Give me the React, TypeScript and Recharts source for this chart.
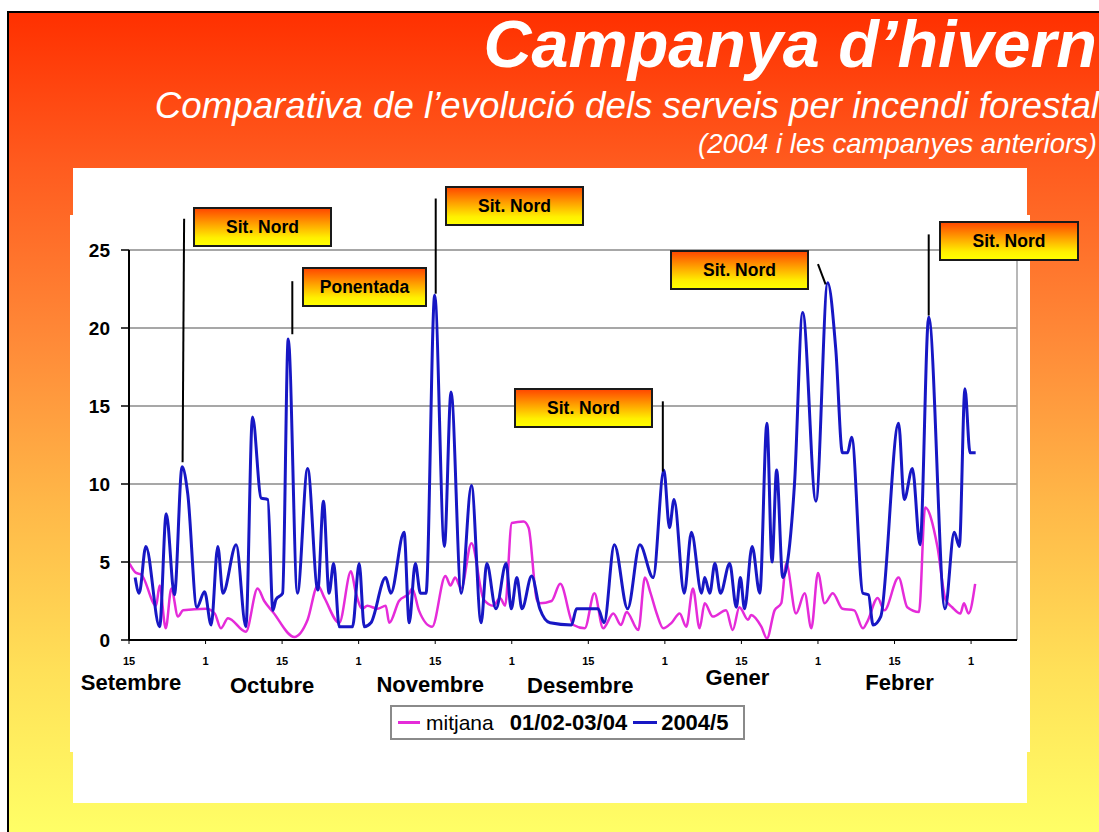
import React from 'react';
import {
  LineChart, Line, XAxis, YAxis, CartesianGrid, ReferenceLine, Legend
} from 'recharts';

// x axis = days counted from 15 September, one tick every 15 days
const tickDays = [0, 15, 30, 45, 60, 75, 90, 105, 120, 135, 150, 165];
const tickLabels = ['15', '1', '15', '1', '15', '1', '15', '1', '15', '1', '15', '1'];
const monthNames = ['Setembre', 'Octubre', 'Novembre', 'Desembre', 'Gener', 'Febrer'];
const yTicks = [0, 5, 10, 15, 20, 25];

// mitjana 01/02-03/04 : [day, serveis]
const mitjana: [number, number][] = [
  [0.1, 4.9], [1.4, 4.3], [2.4, 4.2], [5.3, 2.2], [6.0, 3.5], [7.2, 0.75], [8.3, 3.3],
  [9.6, 1.5], [10.6, 1.9], [15.1, 2.0], [16.8, 1.7], [18.0, 0.75], [19.4, 1.4],
  [22.9, 0.53], [25.2, 3.3], [26.5, 2.5], [28.2, 1.8], [32.4, 0.2], [35.0, 1.3],
  [37.0, 3.5], [38.3, 2.7], [41.2, 1.1], [43.5, 4.4], [44.4, 3.1], [45.7, 2.0],
  [46.7, 2.2], [48.7, 2.0], [50.3, 2.2], [51.0, 1.1], [52.9, 2.5], [54.9, 3.0],
  [55.5, 3.3], [56.8, 1.9], [59.4, 0.85], [62.0, 4.1], [63.0, 3.5], [63.9, 4.0],
  [65.1, 3.3], [67.1, 6.2], [69.5, 2.6], [71.4, 2.2], [72.7, 2.7], [73.7, 2.2],
  [75.0, 7.5], [77.3, 7.6], [78.3, 7.2], [79.9, 2.6], [80.5, 2.35], [82.8, 2.5],
  [84.5, 3.6], [87.1, 0.96], [89.3, 0.75], [91.2, 3.0], [92.9, 0.75], [94.9, 1.7],
  [96.4, 0.96], [97.5, 1.8], [99.8, 0.64], [101.1, 4.0], [102.2, 3.0], [103.4, 1.7],
  [104.7, 0.75], [106.3, 1.1], [107.9, 1.7], [109.2, 0.85], [110.5, 3.3], [111.8, 0.75],
  [112.8, 2.35], [114.4, 1.5], [117.0, 1.9], [118.3, 0.64], [119.6, 2.1], [121.3, 1.3],
  [121.9, 1.6], [123.9, 0.85], [125.0, 0.1], [126.5, 1.9], [127.8, 2.35], [128.8, 4.9],
  [130.7, 1.7], [132.4, 3.0], [133.7, 0.75], [135.0, 4.3], [136.3, 2.35], [137.9, 3.0],
  [139.8, 2.0], [142.1, 1.9], [143.8, 0.75], [144.7, 1.2], [146.7, 2.7], [148.0, 1.9],
  [150.8, 4.0], [152.5, 2.1], [154.8, 1.8], [156.0, 8.5], [158.4, 6.0], [160.0, 2.6],
  [161.3, 2.1], [162.9, 1.7], [163.6, 2.35], [164.5, 1.7], [165.8, 3.6],
];

// campanya 2004/5 : [day, serveis]
const campanya2004: [number, number][] = [
  [1.2, 4.0], [2.0, 3.0], [3.3, 6.0], [6.0, 0.85], [7.3, 8.1], [8.9, 2.9], [10.4, 11.1],
  [11.5, 9.4], [13.3, 2.1], [14.8, 3.1], [16.1, 0.96], [17.4, 6.0], [18.4, 3.0],
  [21.0, 6.1], [22.9, 0.85], [24.2, 14.3], [25.9, 9.1], [27.2, 9.0], [28.2, 1.9],
  [28.8, 2.6], [30.1, 3.0], [31.2, 19.3], [33.0, 3.0], [35.0, 11.0], [37.0, 3.2],
  [38.1, 8.9], [39.2, 3.0], [40.1, 4.9], [41.2, 0.85], [43.8, 0.85], [45.1, 4.9],
  [46.1, 0.85], [47.4, 1.1], [50.3, 4.0], [51.3, 3.0], [53.9, 6.9], [54.9, 1.1],
  [56.1, 4.9], [57.1, 3.0], [58.2, 3.0], [59.9, 22.1], [61.8, 6.0], [63.1, 15.9],
  [65.1, 3.0], [67.1, 9.9], [69.0, 1.1], [70.1, 4.9], [71.9, 2.0], [73.9, 4.9],
  [74.9, 2.0], [76.0, 4.0], [77.0, 2.0], [78.9, 4.1], [80.5, 2.0], [82.5, 1.1],
  [86.7, 0.96], [87.7, 2.0], [91.9, 2.0], [93.1, 1.1], [95.1, 6.1], [97.7, 2.0],
  [100.1, 6.1], [102.7, 4.0], [104.8, 10.9], [105.9, 7.2], [106.8, 9.0], [108.8, 3.0],
  [110.2, 6.9], [112.2, 3.0], [112.8, 4.0], [113.8, 3.0], [114.8, 4.9], [115.9, 3.0],
  [117.7, 4.9], [119.0, 2.1], [119.8, 4.0], [120.6, 2.0], [122.1, 6.0], [123.6, 3.0],
  [125.0, 13.9], [126.0, 5.0], [126.9, 10.9], [128.1, 4.0], [130.4, 10.0], [132.0, 21.0],
  [134.6, 8.9], [136.9, 22.9], [138.5, 18.6], [139.8, 12.0], [140.8, 12.0], [141.6, 13.0],
  [143.8, 3.0], [144.9, 2.9], [145.8, 0.96], [147.3, 1.5], [150.8, 13.9], [151.9, 9.0],
  [153.5, 11.0], [155.0, 6.1], [156.7, 20.7], [159.9, 2.0], [161.7, 6.9], [162.7, 6.0],
  [163.8, 16.1], [164.8, 12.0], [165.9, 12.0],
];

// callout leader lines, in chart units: [day1, value1, day2, value2]
const leaders: [number, number, number, number][] = [
  [10.8, 27.0, 10.5, 11.4],
  [32.0, 23.0, 32.0, 19.6],
  [60.1, 28.3, 60.1, 22.2],
  [104.6, 15.3, 104.6, 10.8],
  [135.0, 24.1, 136.5, 22.8],
  [156.7, 26.0, 156.7, 20.8],
];
const calloutTexts = ['Sit. Nord', 'Ponentada', 'Sit. Nord', 'Sit. Nord', 'Sit. Nord', 'Sit. Nord'];

// layout only
const calloutBoxes = [
  { left: 193, top: 207, width: 139 },
  { left: 302, top: 267, width: 125 },
  { left: 445, top: 186, width: 139 },
  { left: 514, top: 388, width: 139 },
  { left: 670, top: 250, width: 139 },
  { left: 939, top: 221, width: 140 },
];
const monthNudgeY = [0, 3, 2, 3, -5, 0];
const monthNudgeX = [2, -10, -5, -8, -4, 5];

const FONT = '"Liberation Sans", Arial, Helvetica, sans-serif';
const PINK = '#E52BD9';
const BLUE = '#1717C4';

const mitjanaData = mitjana.map(([day, v]) => ({ day, v }));
const campanyaData = campanya2004.map(([day, v]) => ({ day, v }));

const MonthTick = (props: any) => {
  const { x, y, payload } = props;
  const i = tickDays.indexOf(payload.value);
  if (i < 0) return null;
  const m = i / 2;
  return (
    <g>
      <text x={x} y={y + 8} textAnchor="middle" fontFamily={FONT} fontSize={11} fontWeight="bold" fill="#000">
        {tickLabels[i]}
      </text>
      {i % 2 === 0 && (
        <text x={x + monthNudgeX[m]} y={y + 33 + monthNudgeY[m]} textAnchor="middle" fontFamily={FONT}
          fontSize={22} fontWeight="bold" fill="#000">
          {monthNames[m]}
        </text>
      )}
    </g>
  );
};

const LegendBox = () => (
  <div style={{
    boxSizing: 'border-box', width: 355, height: 35, border: '2px solid #8a8a8a', background: '#fff',
    display: 'flex', alignItems: 'center', fontFamily: FONT, fontSize: 21, color: '#000', whiteSpace: 'nowrap'
  }}>
    <span style={{ display: 'inline-block', width: 22, height: 3, background: PINK, marginLeft: 6, marginRight: 6 }} />
    <span>mitjana</span>
    <span style={{ fontWeight: 'bold', fontSize: 22, marginLeft: 16 }}>01/02-03/04</span>
    <span style={{ display: 'inline-block', width: 24, height: 3, background: BLUE, marginLeft: 6, marginRight: 4 }} />
    <span style={{ fontWeight: 'bold', fontSize: 22 }}>2004/5</span>
  </div>
);

const App: React.FC = () => {
  return (
    <div style={{ position: 'absolute', left: 0, top: 0, width: 1099, height: 832, overflow: 'hidden', background: '#fff' }}>
      {/* slide */}
      <div style={{
        position: 'absolute', left: 7, top: 11, width: 1200, height: 821,
        borderLeft: '2px solid #000', borderTop: '2px solid #000',
        background: 'linear-gradient(to bottom, #FF3000 0%, #FF5A1E 18%, #FF8A38 40%, #FFB848 60%, #FFE058 80%, #FFFF66 100%)'
      }} />

      <div style={{
        position: 'absolute', right: 2, top: 11, lineHeight: 1, fontFamily: FONT, fontSize: 66.5,
        fontWeight: 'bold', fontStyle: 'italic', color: '#fff', whiteSpace: 'nowrap'
      }}>Campanya d’hivern</div>
      <div style={{
        position: 'absolute', right: 0, top: 88, lineHeight: 1, fontFamily: FONT, fontSize: 36.7,
        fontStyle: 'italic', color: '#fff', whiteSpace: 'nowrap'
      }}>Comparativa de l’evolució dels serveis per incendi forestal</div>
      <div style={{
        position: 'absolute', right: 2, top: 130, lineHeight: 1, fontFamily: FONT, fontSize: 27.5,
        fontStyle: 'italic', color: '#fff', whiteSpace: 'nowrap'
      }}>(2004 i les campanyes anteriors)</div>

      {/* white panel */}
      <div style={{ position: 'absolute', left: 73, top: 168, width: 954, height: 635, background: '#fff' }} />
      <div style={{ position: 'absolute', left: 70, top: 215, width: 960, height: 537, background: '#fff' }} />

      <div style={{ position: 'absolute', left: 70, top: 180 }}>
        <LineChart width={960} height={575} margin={{ top: 70, right: 13, bottom: 55, left: 0 }}>
          <CartesianGrid vertical={false} stroke="#8a8a8a" strokeWidth={1.5} />
          <XAxis
            dataKey="day" type="number" domain={[0, 174]} ticks={tickDays} allowDataOverflow
            height={60} tickSize={4} tickMargin={13}
            axisLine={{ stroke: '#000', strokeWidth: 2 }} tickLine={{ stroke: '#000' }}
            tick={<MonthTick />}
          />
          <YAxis
            type="number" domain={[0, 25]} ticks={yTicks} width={59} tickSize={8} tickMargin={11}
            axisLine={{ stroke: '#000', strokeWidth: 2 }} tickLine={{ stroke: '#000', strokeWidth: 1.5 }}
            tick={{ fill: '#000', fontFamily: FONT, fontSize: 19, fontWeight: 'bold' }}
          />
          <ReferenceLine x={174} stroke="#a0a0a0" strokeWidth={1.5} />
          <Line data={mitjanaData} dataKey="v" name="mitjana 01/02-03/04" type="monotone"
            stroke={PINK} strokeWidth={2.5} dot={false} isAnimationActive={false} />
          <Line data={campanyaData} dataKey="v" name="2004/5" type="monotone"
            stroke={BLUE} strokeWidth={3} dot={false} isAnimationActive={false} />
          {leaders.map(([x1, y1, x2, y2], i) => (
            <ReferenceLine key={`lead-${i}`} segment={[{ x: x1, y: y1 }, { x: x2, y: y2 }]}
              stroke="#000" strokeWidth={2} ifOverflow="visible" />
          ))}
          <Legend
            layout="horizontal" verticalAlign="middle" align="center"
            content={<LegendBox />}
            wrapperStyle={{ left: 320, top: 525, width: 355, height: 35 }}
          />
        </LineChart>
      </div>

      {calloutBoxes.map((b, i) => (
        <div key={`box-${i}`} style={{
          position: 'absolute', left: b.left, top: b.top, width: b.width, height: 40, boxSizing: 'border-box',
          border: '2px solid #1a1a1a', background: 'linear-gradient(to bottom, #FF4A00 0%, #FFA800 45%, #FFF000 80%, #FFFF00 100%)',
          display: 'flex', alignItems: 'center', justifyContent: 'center',
          fontFamily: FONT, fontSize: 17.5, fontWeight: 'bold', color: '#000'
        }}>{calloutTexts[i]}</div>
      ))}
    </div>
  );
};

export default App;
